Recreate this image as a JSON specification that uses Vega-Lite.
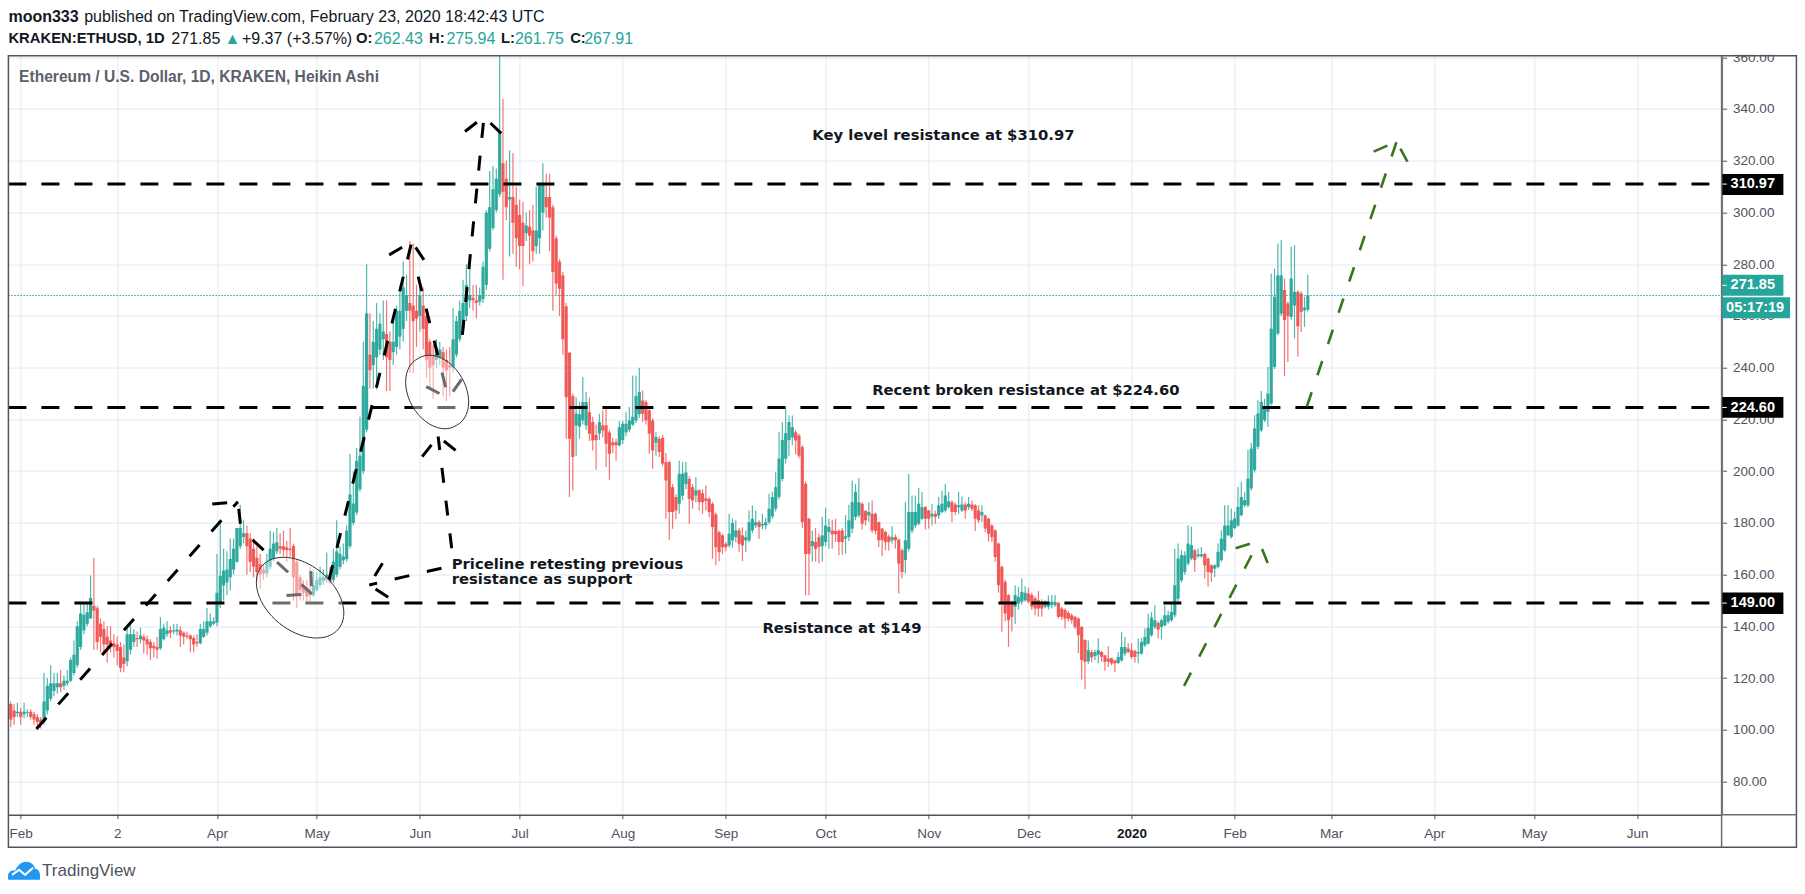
{
"$schema":"https://vega.github.io/schema/vega-lite/v6.json",
"description":"ETHUSD daily Heikin Ashi with hand drawn resistance levels and arrows",
"width":1713.2,"height":759,
"autosize":{"type":"none"},
"padding":{"left":8.4,"top":55.7,"right":83.4,"bottom":79.3},
"background":"#ffffff",
"config":{"view":{"stroke":null},"font":"Liberation Sans"},
"datasets":{
"candles":[
{"date":"2019-01-29","o":110,"c":104,"h":111,"l":101},{"date":"2019-01-30","o":107.5,"c":105,"h":110,"l":102},{"date":"2019-01-31","o":106.4,"c":107,"h":110.5,"l":105},
{"date":"2019-02-01","o":107,"c":105,"h":108.5,"l":102},{"date":"2019-02-02","o":106,"c":107,"h":110.5,"l":104.5},{"date":"2019-02-03","o":106.5,"c":106.8,"h":108,"l":105},{"date":"2019-02-04","o":107,"c":105,"h":108,"l":104},{"date":"2019-02-05","o":106,"c":104,"h":107,"l":102},{"date":"2019-02-06","o":105,"c":103,"h":106,"l":100.4},{"date":"2019-02-07","o":104,"c":102.5,"h":105,"l":100.5},{"date":"2019-02-08","o":103,"c":111,"h":122,"l":102},{"date":"2019-02-09","o":107.5,"c":117,"h":120,"l":106},{"date":"2019-02-10","o":112,"c":118,"h":125,"l":111},{"date":"2019-02-11","o":115,"c":118,"h":122,"l":113},{"date":"2019-02-12","o":116.5,"c":118,"h":122,"l":114},{"date":"2019-02-13","o":118,"c":116.5,"h":123,"l":114.5},{"date":"2019-02-14","o":117,"c":119,"h":121,"l":115.5},{"date":"2019-02-15","o":118,"c":119,"h":123,"l":117},{"date":"2019-02-16","o":119,"c":127,"h":128,"l":118.5},{"date":"2019-02-17","o":122,"c":129,"h":134.5,"l":121},{"date":"2019-02-18","o":125,"c":140,"h":142,"l":124},{"date":"2019-02-19","o":132,"c":145,"h":149,"l":131},{"date":"2019-02-20","o":138.5,"c":144.5,"h":149,"l":137},{"date":"2019-02-21","o":141,"c":145.5,"h":149,"l":140},{"date":"2019-02-22","o":143,"c":151,"h":159.7,"l":143},{"date":"2019-02-23","o":148,"c":146,"h":166.5,"l":131},{"date":"2019-02-24","o":147,"c":134,"h":148,"l":131},{"date":"2019-02-25","o":141,"c":136,"h":143,"l":130},{"date":"2019-02-26","o":139,"c":133,"h":142,"l":129},{"date":"2019-02-27","o":136,"c":133,"h":140,"l":126},{"date":"2019-02-28","o":134.5,"c":132,"h":140,"l":130},
{"date":"2019-03-01","o":133.5,"c":132,"h":137,"l":128},{"date":"2019-03-02","o":133,"c":130.5,"h":136,"l":125},{"date":"2019-03-03","o":132,"c":124,"h":134,"l":122.3},{"date":"2019-03-04","o":128,"c":125.5,"h":133,"l":122.3},{"date":"2019-03-05","o":126.5,"c":137,"h":140,"l":124.6},{"date":"2019-03-06","o":131,"c":137,"h":141,"l":129},{"date":"2019-03-07","o":134,"c":137,"h":139,"l":132},{"date":"2019-03-08","o":135.5,"c":135,"h":138,"l":132},{"date":"2019-03-09","o":135,"c":136.5,"h":139.5,"l":133.5},{"date":"2019-03-10","o":136,"c":134.5,"h":137,"l":129.5},{"date":"2019-03-11","o":135,"c":133,"h":136.5,"l":129},{"date":"2019-03-12","o":134,"c":131.5,"h":135,"l":127},{"date":"2019-03-13","o":132.5,"c":131.5,"h":134,"l":128},{"date":"2019-03-14","o":132,"c":131,"h":136,"l":127.5},{"date":"2019-03-15","o":131.5,"c":139,"h":143.5,"l":131},{"date":"2019-03-16","o":135,"c":139.5,"h":141,"l":134.5},{"date":"2019-03-17","o":137,"c":138.5,"h":142,"l":136},{"date":"2019-03-18","o":138.5,"c":137.5,"h":140,"l":135.5},{"date":"2019-03-19","o":138,"c":138.5,"h":141,"l":137},{"date":"2019-03-20","o":138,"c":138.8,"h":141,"l":136.5},{"date":"2019-03-21","o":138.5,"c":136.5,"h":140,"l":132},{"date":"2019-03-22","o":137.5,"c":136,"h":138,"l":133},{"date":"2019-03-23","o":136.5,"c":136,"h":138,"l":135},{"date":"2019-03-24","o":136.5,"c":135,"h":137,"l":130},{"date":"2019-03-25","o":135.5,"c":133,"h":136.5,"l":130},{"date":"2019-03-26","o":134,"c":133.5,"h":137,"l":132},{"date":"2019-03-27","o":133.5,"c":139,"h":141,"l":133},{"date":"2019-03-28","o":136,"c":139,"h":142,"l":135.5},{"date":"2019-03-29","o":137.5,"c":142,"h":147,"l":136.5},{"date":"2019-03-30","o":140,"c":142,"h":145,"l":139.5},{"date":"2019-03-31","o":141,"c":142,"h":143.5,"l":140.5},
{"date":"2019-04-01","o":141.5,"c":153,"h":168,"l":140},{"date":"2019-04-02","o":148.7,"c":159.6,"h":180,"l":147},{"date":"2019-04-03","o":155.8,"c":161.6,"h":170,"l":150},{"date":"2019-04-04","o":157,"c":162,"h":169,"l":152},{"date":"2019-04-05","o":159,"c":166,"h":174,"l":154},{"date":"2019-04-06","o":162,"c":170,"h":174,"l":160},{"date":"2019-04-07","o":165,"c":178,"h":178,"l":164.5},{"date":"2019-04-08","o":171,"c":178,"h":187,"l":170},{"date":"2019-04-09","o":174.5,"c":176,"h":181,"l":172},{"date":"2019-04-10","o":176,"c":171,"h":179,"l":160},{"date":"2019-04-11","o":174,"c":165,"h":176,"l":161},{"date":"2019-04-12","o":170,"c":163,"h":174,"l":159},{"date":"2019-04-13","o":166.5,"c":161,"h":171,"l":157},{"date":"2019-04-14","o":164,"c":160,"h":168,"l":154.5},{"date":"2019-04-15","o":162,"c":160.5,"h":164,"l":158},{"date":"2019-04-16","o":160.5,"c":165,"h":168,"l":159},{"date":"2019-04-17","o":163,"c":170,"h":177,"l":162},{"date":"2019-04-18","o":166,"c":172,"h":176.5,"l":165},{"date":"2019-04-19","o":169,"c":172.5,"h":178,"l":168},{"date":"2019-04-20","o":171,"c":170,"h":176,"l":168},{"date":"2019-04-21","o":171,"c":169.5,"h":177,"l":167},{"date":"2019-04-22","o":170.5,"c":169.5,"h":173,"l":165},{"date":"2019-04-23","o":170,"c":169.5,"h":178,"l":167},{"date":"2019-04-24","o":171,"c":159,"h":172,"l":150},{"date":"2019-04-25","o":165,"c":152,"h":166,"l":147},{"date":"2019-04-26","o":159,"c":154,"h":160,"l":150},{"date":"2019-04-27","o":156,"c":153,"h":158,"l":150},{"date":"2019-04-28","o":155,"c":151.5,"h":158,"l":149.5},{"date":"2019-04-29","o":153,"c":152,"h":163,"l":149.5},{"date":"2019-04-30","o":152,"c":156,"h":161,"l":151.5},
{"date":"2019-05-01","o":154,"c":158,"h":161,"l":153.5},{"date":"2019-05-02","o":156,"c":159,"h":163,"l":155},{"date":"2019-05-03","o":157.5,"c":159,"h":162,"l":156},{"date":"2019-05-04","o":158,"c":160,"h":168.6,"l":157},{"date":"2019-05-05","o":159.5,"c":157,"h":163,"l":156.5},{"date":"2019-05-06","o":158,"c":165,"h":170,"l":157},{"date":"2019-05-07","o":160,"c":169,"h":181,"l":159},{"date":"2019-05-08","o":163,"c":168,"h":171,"l":162},{"date":"2019-05-09","o":165.5,"c":167,"h":172,"l":164},{"date":"2019-05-10","o":166,"c":177,"h":179,"l":165},{"date":"2019-05-11","o":171,"c":191,"h":206.7,"l":170},{"date":"2019-05-12","o":180,"c":187.5,"h":200,"l":179},{"date":"2019-05-13","o":184,"c":204,"h":209,"l":183},{"date":"2019-05-14","o":193,"c":206,"h":221,"l":192},{"date":"2019-05-15","o":200,"c":233,"h":250,"l":199},{"date":"2019-05-16","o":216,"c":261,"h":280,"l":215},{"date":"2019-05-17","o":245,"c":239,"h":261,"l":232},{"date":"2019-05-18","o":241,"c":250,"h":258,"l":232},{"date":"2019-05-19","o":244,"c":255,"h":265,"l":231.5},{"date":"2019-05-20","o":247,"c":257,"h":261,"l":245},{"date":"2019-05-21","o":251,"c":254,"h":266,"l":243},{"date":"2019-05-22","o":253,"c":244,"h":266,"l":231},{"date":"2019-05-23","o":250,"c":243,"h":254,"l":231},{"date":"2019-05-24","o":246,"c":250,"h":259,"l":241},{"date":"2019-05-25","o":248,"c":262,"h":264,"l":245},{"date":"2019-05-26","o":252,"c":262,"h":271,"l":247},{"date":"2019-05-27","o":255,"c":271,"h":281,"l":250},{"date":"2019-05-28","o":262,"c":268,"h":276,"l":258},{"date":"2019-05-29","o":265,"c":262,"h":289,"l":238},{"date":"2019-05-30","o":264,"c":258,"h":288,"l":238},{"date":"2019-05-31","o":262,"c":259,"h":272,"l":248},
{"date":"2019-06-01","o":260,"c":268,"h":272,"l":254},{"date":"2019-06-02","o":264,"c":255,"h":271,"l":247},{"date":"2019-06-03","o":260,"c":243,"h":262,"l":236},{"date":"2019-06-04","o":250,"c":240,"h":251,"l":232},{"date":"2019-06-05","o":245,"c":241,"h":249,"l":228},{"date":"2019-06-06","o":243,"c":248,"h":251,"l":240},{"date":"2019-06-07","o":244,"c":247,"h":250,"l":241},{"date":"2019-06-08","o":246,"c":240,"h":248,"l":229},{"date":"2019-06-09","o":243,"c":239,"h":247,"l":227},{"date":"2019-06-10","o":241,"c":240,"h":248,"l":229},{"date":"2019-06-11","o":240,"c":251,"h":263,"l":238},{"date":"2019-06-12","o":245,"c":258,"h":260,"l":244},{"date":"2019-06-13","o":251,"c":262,"h":266,"l":250},{"date":"2019-06-14","o":255,"c":265,"h":274,"l":253},{"date":"2019-06-15","o":260,"c":272,"h":280,"l":258},{"date":"2019-06-16","o":266,"c":268,"h":281,"l":263},{"date":"2019-06-17","o":267,"c":266,"h":272,"l":262},{"date":"2019-06-18","o":266,"c":265,"h":272,"l":259},{"date":"2019-06-19","o":265.5,"c":268,"h":271,"l":264},{"date":"2019-06-20","o":266.5,"c":279,"h":281,"l":265},{"date":"2019-06-21","o":272,"c":300,"h":301,"l":270},{"date":"2019-06-22","o":286,"c":302,"h":316,"l":285},{"date":"2019-06-23","o":294,"c":309,"h":318,"l":293},{"date":"2019-06-24","o":301,"c":313,"h":317,"l":300},{"date":"2019-06-25","o":307,"c":331,"h":365,"l":306},{"date":"2019-06-26","o":319,"c":308,"h":344,"l":274},{"date":"2019-06-27","o":313,"c":302,"h":320,"l":297},{"date":"2019-06-28","o":305,"c":306,"h":324,"l":283},{"date":"2019-06-29","o":306,"c":296,"h":323,"l":284},{"date":"2019-06-30","o":303,"c":290,"h":310,"l":279},
{"date":"2019-07-01","o":299,"c":287,"h":305,"l":278},{"date":"2019-07-02","o":296,"c":287,"h":304,"l":271.6},{"date":"2019-07-03","o":292,"c":295,"h":300,"l":289},{"date":"2019-07-04","o":294.5,"c":291,"h":301,"l":280},{"date":"2019-07-05","o":293,"c":285,"h":303,"l":281},{"date":"2019-07-06","o":287,"c":293,"h":310,"l":284},{"date":"2019-07-07","o":290,"c":311,"h":311.5,"l":284},{"date":"2019-07-08","o":300,"c":311,"h":319,"l":293},{"date":"2019-07-09","o":306,"c":302,"h":315,"l":298},{"date":"2019-07-10","o":306,"c":298,"h":315,"l":285},{"date":"2019-07-11","o":302,"c":277,"h":303,"l":262},{"date":"2019-07-12","o":290,"c":272.5,"h":291,"l":268},{"date":"2019-07-13","o":281,"c":270.5,"h":282,"l":260},{"date":"2019-07-14","o":275.7,"c":251,"h":277,"l":245},{"date":"2019-07-15","o":263.7,"c":228.6,"h":265,"l":212.5},{"date":"2019-07-16","o":245.8,"c":212.5,"h":246,"l":190},{"date":"2019-07-17","o":229,"c":205.5,"h":230,"l":192.5},{"date":"2019-07-18","o":217.7,"c":222.2,"h":228.6,"l":206},{"date":"2019-07-19","o":217.2,"c":222,"h":226.7,"l":212.5},{"date":"2019-07-20","o":219.6,"c":226.7,"h":236.4,"l":218},{"date":"2019-07-21","o":217.7,"c":226.7,"h":230.6,"l":216},{"date":"2019-07-22","o":222.8,"c":214.5,"h":228.4,"l":211.6},{"date":"2019-07-23","o":219,"c":211.9,"h":221,"l":208},{"date":"2019-07-24","o":214,"c":212,"h":218,"l":200.5},{"date":"2019-07-25","o":214.5,"c":219,"h":222.2,"l":212},{"date":"2019-07-26","o":217.7,"c":215.7,"h":223.5,"l":213},{"date":"2019-07-27","o":217.7,"c":210.6,"h":224,"l":201.6},{"date":"2019-07-28","o":215,"c":206.7,"h":216,"l":196.7},{"date":"2019-07-29","o":211.2,"c":210,"h":213,"l":207},{"date":"2019-07-30","o":211.2,"c":210,"h":212.5,"l":204},{"date":"2019-07-31","o":210,"c":217,"h":219.4,"l":209.5},
{"date":"2019-08-01","o":212,"c":218.3,"h":219.5,"l":210.5},{"date":"2019-08-02","o":215,"c":218.3,"h":222.8,"l":213.5},{"date":"2019-08-03","o":216,"c":219.6,"h":224.8,"l":215},{"date":"2019-08-04","o":218,"c":221,"h":237,"l":217.5},{"date":"2019-08-05","o":219.6,"c":229,"h":237,"l":218.5},{"date":"2019-08-06","o":222,"c":230.6,"h":240,"l":220.5},{"date":"2019-08-07","o":227.3,"c":222.2,"h":231.2,"l":219},{"date":"2019-08-08","o":226.7,"c":219.6,"h":227.5,"l":218},{"date":"2019-08-09","o":223.5,"c":214.5,"h":224,"l":206.7},{"date":"2019-08-10","o":219.6,"c":208,"h":220.5,"l":200.9},{"date":"2019-08-11","o":211,"c":213.2,"h":215,"l":206},{"date":"2019-08-12","o":212.5,"c":207.4,"h":213.5,"l":205.5},{"date":"2019-08-13","o":212.9,"c":202.9,"h":214,"l":202},{"date":"2019-08-14","o":203.5,"c":196.4,"h":207,"l":181.6},{"date":"2019-08-15","o":203.5,"c":184.2,"h":204,"l":173.5},{"date":"2019-08-16","o":193.8,"c":184.2,"h":195,"l":177.7},{"date":"2019-08-17","o":190,"c":184.8,"h":191,"l":181.5},{"date":"2019-08-18","o":187.4,"c":199,"h":204,"l":183.5},{"date":"2019-08-19","o":190.5,"c":199,"h":203.5,"l":188.7},{"date":"2019-08-20","o":195,"c":199.5,"h":203.5,"l":193},{"date":"2019-08-21","o":197,"c":189.3,"h":198,"l":179.7},{"date":"2019-08-22","o":193.8,"c":188.7,"h":195,"l":185.5},{"date":"2019-08-23","o":190.6,"c":192.6,"h":197.7,"l":188},{"date":"2019-08-24","o":192.6,"c":188,"h":193,"l":184.8},{"date":"2019-08-25","o":191.5,"c":188,"h":193,"l":183.5},{"date":"2019-08-26","o":189.5,"c":188.5,"h":194.5,"l":184.8},{"date":"2019-08-27","o":189.3,"c":184.2,"h":190,"l":182.2},{"date":"2019-08-28","o":187.4,"c":178.4,"h":188,"l":166.1},{"date":"2019-08-29","o":183.3,"c":170.6,"h":184,"l":163.6},{"date":"2019-08-30","o":176.4,"c":168.7,"h":177,"l":165.2},{"date":"2019-08-31","o":175.2,"c":170.6,"h":175.8,"l":168},
{"date":"2019-09-01","o":171.9,"c":170.6,"h":172.5,"l":169},{"date":"2019-09-02","o":171.3,"c":175.8,"h":183.5,"l":170.5},{"date":"2019-09-03","o":173.2,"c":180,"h":181.6,"l":170.5},{"date":"2019-09-04","o":174.5,"c":177.1,"h":181,"l":172.5},{"date":"2019-09-05","o":177.1,"c":171.9,"h":178,"l":168.7},{"date":"2019-09-06","o":175.2,"c":171.3,"h":178.3,"l":165.2},{"date":"2019-09-07","o":173.2,"c":174.5,"h":177.1,"l":168.7},{"date":"2019-09-08","o":173.2,"c":180.3,"h":184.8,"l":172.5},{"date":"2019-09-09","o":177.1,"c":181.6,"h":186.8,"l":176},{"date":"2019-09-10","o":179,"c":180.3,"h":184.8,"l":178},{"date":"2019-09-11","o":180.3,"c":178.4,"h":181,"l":173.9},{"date":"2019-09-12","o":179,"c":179.6,"h":183.5,"l":177.5},{"date":"2019-09-13","o":179,"c":180.3,"h":182,"l":177.5},{"date":"2019-09-14","o":180.3,"c":185.5,"h":191.3,"l":179.5},{"date":"2019-09-15","o":182.5,"c":190,"h":192,"l":181.5},{"date":"2019-09-16","o":185.5,"c":193.8,"h":199.6,"l":184.5},{"date":"2019-09-17","o":190,"c":204.8,"h":215,"l":189},{"date":"2019-09-18","o":197,"c":212,"h":219,"l":196},{"date":"2019-09-19","o":204.8,"c":214.7,"h":224.8,"l":203},{"date":"2019-09-20","o":212,"c":219,"h":221.5,"l":206},{"date":"2019-09-21","o":213,"c":217,"h":221.5,"l":210},{"date":"2019-09-22","o":215,"c":211.9,"h":216,"l":206.5},{"date":"2019-09-23","o":213.8,"c":206,"h":214.5,"l":205},{"date":"2019-09-24","o":209.3,"c":180.3,"h":210,"l":178},{"date":"2019-09-25","o":195.1,"c":168,"h":196,"l":152},{"date":"2019-09-26","o":181.6,"c":168,"h":182,"l":152},{"date":"2019-09-27","o":171,"c":173,"h":177,"l":165},{"date":"2019-09-28","o":172.6,"c":170,"h":178,"l":165},{"date":"2019-09-29","o":174.5,"c":170.7,"h":176,"l":164.3},{"date":"2019-09-30","o":171,"c":175.2,"h":182.3,"l":165},
{"date":"2019-10-01","o":172.6,"c":179,"h":185.9,"l":171},{"date":"2019-10-02","o":176.5,"c":178.4,"h":181.6,"l":170},{"date":"2019-10-03","o":177,"c":175.6,"h":181.2,"l":170},{"date":"2019-10-04","o":176.9,"c":175.6,"h":181.6,"l":172.6},{"date":"2019-10-05","o":176.9,"c":172.6,"h":177.5,"l":167.5},{"date":"2019-10-06","o":177.1,"c":172.6,"h":178,"l":167.7},{"date":"2019-10-07","o":173.9,"c":174.8,"h":183,"l":168.1},{"date":"2019-10-08","o":174.5,"c":181,"h":187,"l":173},{"date":"2019-10-09","o":177.8,"c":188,"h":196.4,"l":176},{"date":"2019-10-10","o":182.3,"c":191.9,"h":195.1,"l":181},{"date":"2019-10-11","o":182.9,"c":188,"h":197.4,"l":182},{"date":"2019-10-12","o":187.4,"c":179.7,"h":188,"l":177.4},{"date":"2019-10-13","o":184.6,"c":181,"h":185,"l":179},{"date":"2019-10-14","o":182.9,"c":184.2,"h":188,"l":180.3},{"date":"2019-10-15","o":183.5,"c":177.1,"h":188.7,"l":176},{"date":"2019-10-16","o":183.5,"c":176.9,"h":184,"l":175.5},{"date":"2019-10-17","o":180.3,"c":173.3,"h":180.5,"l":170.7},{"date":"2019-10-18","o":177.8,"c":173.3,"h":178,"l":167.1},{"date":"2019-10-19","o":176.5,"c":172.6,"h":177,"l":169.4},{"date":"2019-10-20","o":174.8,"c":172.6,"h":175.5,"l":169.2},{"date":"2019-10-21","o":173.3,"c":174.5,"h":178.7,"l":172},{"date":"2019-10-22","o":174.5,"c":173.3,"h":175.6,"l":170},{"date":"2019-10-23","o":173.5,"c":164.3,"h":174,"l":152.7},{"date":"2019-10-24","o":169.4,"c":161,"h":170,"l":158.5},{"date":"2019-10-25","o":165.6,"c":173.3,"h":188,"l":160.4},{"date":"2019-10-26","o":170,"c":184.2,"h":199,"l":169},{"date":"2019-10-27","o":177,"c":184.2,"h":190.6,"l":176},{"date":"2019-10-28","o":179,"c":184.2,"h":190.6,"l":178},{"date":"2019-10-29","o":179.7,"c":187.4,"h":193.6,"l":179},{"date":"2019-10-30","o":181.6,"c":186.1,"h":191.9,"l":181},{"date":"2019-10-31","o":186.1,"c":181.6,"h":186.5,"l":177.4},
{"date":"2019-11-01","o":184.8,"c":181.6,"h":185,"l":177.8},{"date":"2019-11-02","o":182.5,"c":183.5,"h":187.4,"l":179},{"date":"2019-11-03","o":183.5,"c":182.3,"h":184.8,"l":179.7},{"date":"2019-11-04","o":182.9,"c":186.8,"h":190,"l":181.5},{"date":"2019-11-05","o":184.2,"c":187.4,"h":192.5,"l":183.5},{"date":"2019-11-06","o":184.8,"c":190.6,"h":195.1,"l":184},{"date":"2019-11-07","o":186.1,"c":188.4,"h":191.9,"l":185.5},{"date":"2019-11-08","o":188,"c":184.2,"h":188.8,"l":180.3},{"date":"2019-11-09","o":187.1,"c":184.2,"h":188,"l":183},{"date":"2019-11-10","o":186.1,"c":186.8,"h":191.9,"l":183.5},{"date":"2019-11-11","o":184.8,"c":187.1,"h":190.2,"l":184.2},{"date":"2019-11-12","o":187.1,"c":184.8,"h":188,"l":181.6},{"date":"2019-11-13","o":186.1,"c":187.4,"h":190,"l":185},{"date":"2019-11-14","o":187.1,"c":185.4,"h":188.7,"l":184.5},{"date":"2019-11-15","o":186.8,"c":181.6,"h":187.2,"l":176.9},{"date":"2019-11-16","o":184.8,"c":181,"h":186.8,"l":180},{"date":"2019-11-17","o":182.9,"c":184.2,"h":186.8,"l":180.3},{"date":"2019-11-18","o":182.9,"c":177.8,"h":183.2,"l":176.5},{"date":"2019-11-19","o":181.6,"c":175.8,"h":182,"l":172.8},{"date":"2019-11-20","o":179,"c":174.5,"h":179.5,"l":172.6},{"date":"2019-11-21","o":177.1,"c":166.8,"h":177.5,"l":165},{"date":"2019-11-22","o":172,"c":155.9,"h":172.5,"l":153},{"date":"2019-11-23","o":163,"c":148.8,"h":163.5,"l":137.9},{"date":"2019-11-24","o":157.2,"c":145,"h":158,"l":142},{"date":"2019-11-25","o":152.1,"c":142.4,"h":152.5,"l":132.1},{"date":"2019-11-26","o":148.8,"c":143.7,"h":150,"l":138},{"date":"2019-11-27","o":147.6,"c":152.1,"h":155.9,"l":140.9},{"date":"2019-11-28","o":148.8,"c":151.4,"h":155.3,"l":146.5},{"date":"2019-11-29","o":149.5,"c":153.3,"h":158.5,"l":148.5},{"date":"2019-11-30","o":150.1,"c":153,"h":155.5,"l":149.5},
{"date":"2019-12-01","o":152.7,"c":149.5,"h":155,"l":148.8},{"date":"2019-12-02","o":152.1,"c":147.6,"h":153,"l":146.3},{"date":"2019-12-03","o":150.8,"c":146.9,"h":151.5,"l":144.3},{"date":"2019-12-04","o":150.1,"c":146.9,"h":153.7,"l":143.7},{"date":"2019-12-05","o":149.5,"c":146.9,"h":150.5,"l":143.7},{"date":"2019-12-06","o":147.6,"c":149.5,"h":150.1,"l":147},{"date":"2019-12-07","o":147.6,"c":149.5,"h":152,"l":146.5},{"date":"2019-12-08","o":148.2,"c":149.5,"h":152.1,"l":147},{"date":"2019-12-09","o":148.2,"c":149.5,"h":152.1,"l":147.5},{"date":"2019-12-10","o":149.1,"c":143.7,"h":149.5,"l":143},{"date":"2019-12-11","o":146.9,"c":143.7,"h":147.5,"l":142.5},{"date":"2019-12-12","o":146.3,"c":143,"h":147,"l":139.2},{"date":"2019-12-13","o":145.2,"c":143,"h":146,"l":142},{"date":"2019-12-14","o":144.3,"c":142.4,"h":145,"l":141.1},{"date":"2019-12-15","o":143.7,"c":139.8,"h":144,"l":139},{"date":"2019-12-16","o":143,"c":136.6,"h":143.5,"l":129.6},{"date":"2019-12-17","o":139.8,"c":127,"h":140,"l":119.5},{"date":"2019-12-18","o":134.7,"c":126.3,"h":135,"l":115.7},{"date":"2019-12-19","o":126.5,"c":130.8,"h":134.5,"l":125.5},{"date":"2019-12-20","o":130,"c":128,"h":131,"l":126},{"date":"2019-12-21","o":128.5,"c":130.1,"h":131,"l":127},{"date":"2019-12-22","o":129,"c":130.8,"h":135.3,"l":125.7},{"date":"2019-12-23","o":130.1,"c":128.2,"h":130.5,"l":126.3},{"date":"2019-12-24","o":128.8,"c":126.3,"h":129,"l":122.8},{"date":"2019-12-25","o":127.6,"c":126.3,"h":132.3,"l":124.3},{"date":"2019-12-26","o":127.6,"c":125.7,"h":128,"l":125},{"date":"2019-12-27","o":126.9,"c":125.7,"h":127,"l":122.4},{"date":"2019-12-28","o":125.9,"c":128.2,"h":130.1,"l":125.5},{"date":"2019-12-29","o":126.9,"c":132,"h":137.9,"l":126.3},{"date":"2019-12-30","o":129.5,"c":132,"h":135.9,"l":128.5},{"date":"2019-12-31","o":131.4,"c":130.1,"h":133.6,"l":129.5},
{"date":"2020-01-01","o":130.8,"c":128.2,"h":133.4,"l":127.5},{"date":"2020-01-02","o":130.5,"c":128.2,"h":131,"l":125.9},{"date":"2020-01-03","o":129.5,"c":130.1,"h":135.3,"l":125.7},{"date":"2020-01-04","o":129.5,"c":134,"h":135.5,"l":129},{"date":"2020-01-05","o":132.7,"c":135.9,"h":139.2,"l":132},{"date":"2020-01-06","o":133.4,"c":139.5,"h":145,"l":133},{"date":"2020-01-07","o":136.6,"c":143.4,"h":145.6,"l":136},{"date":"2020-01-08","o":139.8,"c":142.4,"h":148.2,"l":139},{"date":"2020-01-09","o":141.3,"c":138.8,"h":142,"l":135.3},{"date":"2020-01-10","o":139.8,"c":142.4,"h":143,"l":134.9},{"date":"2020-01-11","o":140.4,"c":144.3,"h":148.2,"l":140},{"date":"2020-01-12","o":141.8,"c":144.3,"h":146,"l":141},{"date":"2020-01-13","o":142.4,"c":145.6,"h":148.8,"l":141.8},{"date":"2020-01-14","o":144.3,"c":155.9,"h":170,"l":143.5},{"date":"2020-01-15","o":150.7,"c":166.2,"h":172,"l":149.5},{"date":"2020-01-16","o":157.8,"c":167.5,"h":169.5,"l":157},{"date":"2020-01-17","o":161,"c":167.5,"h":169,"l":160},{"date":"2020-01-18","o":164.3,"c":172,"h":179,"l":163.5},{"date":"2020-01-19","o":166.2,"c":171.4,"h":178.5,"l":165.5},{"date":"2020-01-20","o":169.4,"c":165.6,"h":170,"l":161},{"date":"2020-01-21","o":167.1,"c":167.9,"h":170.1,"l":166.5},{"date":"2020-01-22","o":167.1,"c":167.9,"h":170.7,"l":166.5},{"date":"2020-01-23","o":168,"c":163.6,"h":168.5,"l":158.5},{"date":"2020-01-24","o":166.2,"c":161,"h":166.5,"l":155.3},{"date":"2020-01-25","o":163.6,"c":160.7,"h":164,"l":157.2},{"date":"2020-01-26","o":162.3,"c":163.6,"h":164,"l":159.1},{"date":"2020-01-27","o":163,"c":168.8,"h":172,"l":162.5},{"date":"2020-01-28","o":165.6,"c":173.9,"h":177.2,"l":165},{"date":"2020-01-29","o":169.4,"c":179,"h":186.8,"l":168.8},{"date":"2020-01-30","o":175.2,"c":179,"h":186.8,"l":175},{"date":"2020-01-31","o":174.6,"c":181,"h":185.5,"l":174},
{"date":"2020-02-01","o":178,"c":181.7,"h":184.3,"l":177.5},{"date":"2020-02-02","o":179,"c":186.2,"h":193.9,"l":178.5},{"date":"2020-02-03","o":183,"c":190,"h":195.9,"l":182.5},{"date":"2020-02-04","o":186.8,"c":188.8,"h":192,"l":186},{"date":"2020-02-05","o":186.8,"c":197.1,"h":208.3,"l":186},{"date":"2020-02-06","o":193.3,"c":208.7,"h":211,"l":192.5},{"date":"2020-02-07","o":200.4,"c":216.5,"h":221.6,"l":199.5},{"date":"2020-02-08","o":209.4,"c":222.3,"h":227.4,"l":208.5},{"date":"2020-02-09","o":215.8,"c":226.8,"h":231,"l":215},{"date":"2020-02-10","o":219.7,"c":224.8,"h":228,"l":219},{"date":"2020-02-11","o":222.9,"c":230,"h":240.3,"l":217.1},{"date":"2020-02-12","o":226.1,"c":255.1,"h":276.4,"l":225.5},{"date":"2020-02-13","o":240.3,"c":267.4,"h":278.3,"l":239.5},{"date":"2020-02-14","o":253.2,"c":275.7,"h":288,"l":252.5},{"date":"2020-02-15","o":260.9,"c":275.7,"h":289.3,"l":260},{"date":"2020-02-16","o":270,"c":258.4,"h":274.5,"l":236.7},{"date":"2020-02-17","o":264.8,"c":259.9,"h":265.5,"l":242.2},{"date":"2020-02-18","o":259.6,"c":274.5,"h":286.7,"l":258.5},{"date":"2020-02-19","o":264,"c":269.3,"h":287.3,"l":251.3},{"date":"2020-02-20","o":269.3,"c":256,"h":270,"l":244.2},{"date":"2020-02-21","o":268.7,"c":261.6,"h":269.5,"l":253.8},{"date":"2020-02-22","o":262.2,"c":263.2,"h":267.4,"l":255.8},{"date":"2020-02-23","o":262.43,"c":267.91,"h":275.94,"l":261.75}
],
"levels":[
{"date":"2019-01-28T07:00Z","date2":"2020-06-26T10:00Z","price":310.97},
{"date":"2019-01-28T07:00Z","date2":"2020-06-26T10:00Z","price":224.6},
{"date":"2019-01-28T07:00Z","date2":"2020-06-26T10:00Z","price":149}
],
"arrows":[
{"g":"a1","i":1,"date":"2019-02-05T17:00Z","price":100.3},{"g":"a1","i":2,"date":"2019-04-07T07:00Z","price":188.2},
{"g":"h1","i":1,"date":"2019-03-30T14:00Z","price":187.3},{"g":"h1","i":2,"date":"2019-04-07T07:00Z","price":188.2},{"g":"h1","i":3,"date":"2019-04-08T05:00Z","price":178},
{"g":"a2","i":1,"date":"2019-04-11T17:00Z","price":173.4},{"g":"a2","i":2,"date":"2019-04-29T12:00Z","price":152.6},
{"g":"h2","i":1,"date":"2019-04-21T22:00Z","price":151.9},{"g":"h2","i":2,"date":"2019-04-29T12:00Z","price":152.6},{"g":"h2","i":3,"date":"2019-04-29T05:00Z","price":162.5},
{"g":"a3","i":1,"date":"2019-05-04T17:00Z","price":158},{"g":"a3","i":2,"date":"2019-05-17T10:00Z","price":224.3},{"g":"a3","i":3,"date":"2019-05-29T14:00Z","price":288.7},
{"g":"h4","i":1,"date":"2019-05-22T19:00Z","price":283.6},{"g":"h4","i":2,"date":"2019-05-29T14:00Z","price":288.7},{"g":"h4","i":3,"date":"2019-06-02T22:00Z","price":280.4},
{"g":"a5","i":1,"date":"2019-05-31T12:00Z","price":275.2},{"g":"a5","i":2,"date":"2019-06-09T14:00Z","price":228.2},
{"g":"h5","i":1,"date":"2019-06-02T22:00Z","price":232.7},{"g":"h5","i":2,"date":"2019-06-09T14:00Z","price":228.2},{"g":"h5","i":3,"date":"2019-06-13T19:00Z","price":235.9},
{"g":"a6","i":1,"date":"2019-06-13T19:00Z","price":252.7},{"g":"a6","i":2,"date":"2019-06-20T07:00Z","price":337},
{"g":"h6","i":1,"date":"2019-06-14T14:00Z","price":331.3},{"g":"h6","i":2,"date":"2019-06-20T07:00Z","price":337},{"g":"h6","i":3,"date":"2019-06-25T22:00Z","price":330},
{"g":"a7","i":1,"date":"2019-06-10T14:00Z","price":170.2},{"g":"a7","i":2,"date":"2019-06-06T12:00Z","price":213.4},
{"g":"h7","i":1,"date":"2019-06-01T17:00Z","price":205.6},{"g":"h7","i":2,"date":"2019-06-06T12:00Z","price":213.4},{"g":"h7","i":3,"date":"2019-06-12T14:00Z","price":207.2},
{"g":"a8","i":1,"date":"2019-06-07T12:00Z","price":162.5},{"g":"a8","i":2,"date":"2019-05-16T19:00Z","price":156},
{"g":"h8","i":1,"date":"2019-05-20T19:00Z","price":164.4},{"g":"h8","i":2,"date":"2019-05-16T19:00Z","price":156},{"g":"h8","i":3,"date":"2019-05-23T10:00Z","price":150.5}
],
"greenArrows":[
{"g":"g1","i":1,"date":"2020-01-16T19:00Z","price":117},{"g":"g1","i":2,"date":"2020-02-08T07:00Z","price":173},
{"g":"gh1","i":1,"date":"2020-02-01T07:00Z","price":170.2},{"g":"gh1","i":2,"date":"2020-02-08T07:00Z","price":173},{"g":"gh1","i":3,"date":"2020-02-11T05:00Z","price":163.6},
{"g":"g2","i":1,"date":"2020-02-22T17:00Z","price":225},{"g":"g2","i":2,"date":"2020-03-20T17:00Z","price":327.4},
{"g":"gh2","i":1,"date":"2020-03-13T19:00Z","price":323.5},{"g":"gh2","i":2,"date":"2020-03-20T17:00Z","price":327.4},{"g":"gh2","i":3,"date":"2020-03-24T07:00Z","price":318.8}
],
"notes":[
{"date":"2019-09-27","price":329.6,"label":"Key level resistance at $310.97"},
{"date":"2019-10-15","price":230.8,"label":"Recent broken resistance at $224.60"},
{"date":"2019-09-12","price":138.9,"label":"Resistance at $149"},
{"date":"2019-06-10T14:00Z","price":163.9,"label":"Priceline retesting previous"},
{"date":"2019-06-10T14:00Z","price":158,"label":"resistance as support"}
],
"header":[
{"date":"2019-01-28T07:00Z","price":375.7,"label":"moon333","kind":"user"},
{"date":"2019-02-20T02:00Z","price":375.7,"label":"published on TradingView.com, February 23, 2020 18:42:43 UTC","kind":"plain"},
{"date":"2019-01-28T07:00Z","price":367.2,"label":"KRAKEN:ETHUSD, 1D","kind":"bold"},
{"date":"2019-03-18T07:00Z","price":367.2,"label":"271.85","kind":"plain"},
{"date":"2019-04-03T07:00Z","price":367.2,"label":"▲","kind":"value"},
{"date":"2019-04-08T12:00Z","price":367.2,"label":"+9.37 (+3.57%)","kind":"plain"},
{"date":"2019-05-12T19:00Z","price":367.2,"label":"O:","kind":"bold"},
{"date":"2019-05-18T05:00Z","price":367.2,"label":"262.43","kind":"value"},
{"date":"2019-06-03T19:00Z","price":367.2,"label":"H:","kind":"bold"},
{"date":"2019-06-09T00:00Z","price":367.2,"label":"275.94","kind":"value"},
{"date":"2019-06-25T10:00Z","price":367.2,"label":"L:","kind":"bold"},
{"date":"2019-06-29T14:00Z","price":367.2,"label":"261.75","kind":"value"},
{"date":"2019-07-16T05:00Z","price":367.2,"label":"C:","kind":"bold"},
{"date":"2019-07-20T10:00Z","price":367.2,"label":"267.91","kind":"value"}
],
"tags":[
{"date":"2020-06-26T10:00Z","date2":"2020-07-15","price":314.9,"price2":306.8,"kind":"level"},
{"date":"2020-06-26T10:00Z","date2":"2020-07-15","price":228.7,"price2":220.6,"kind":"level"},
{"date":"2020-06-26T10:00Z","date2":"2020-07-15","price":153.1,"price2":144.8,"kind":"level"},
{"date":"2020-06-26T10:00Z","date2":"2020-07-15","price":275.9,"price2":267.8,"kind":"last"},
{"date":"2020-06-26T10:00Z","date2":"2020-07-17","price":267.2,"price2":259.1,"kind":"last"}
],
"tagLabels":[
{"date":"2020-07-05T19:00Z","price":310.97,"label":"310.97"},
{"date":"2020-07-05T19:00Z","price":224.6,"label":"224.60"},
{"date":"2020-07-05T19:00Z","price":149,"label":"149.00"},
{"date":"2020-07-05T19:00Z","price":271.85,"label":"271.85"},
{"date":"2020-07-06T12:00Z","price":263.1,"label":"05:17:19"}
],
"tagTicks":[
{"date":"2020-06-26T10:00Z","date2":"2020-06-28","price":310.97},
{"date":"2020-06-26T10:00Z","date2":"2020-06-28","price":224.6},
{"date":"2020-06-26T10:00Z","date2":"2020-06-28","price":149},
{"date":"2020-06-26T10:00Z","date2":"2020-06-28","price":271.85}
]
},
"data":{"name":"candles"},
"encoding":{
"x":{"field":"date","type":"temporal","title":null,
"scale":{"type":"utc","domain":[{"year":2019,"month":1,"date":28,"hours":7,"utc":true},{"year":2020,"month":6,"date":26,"hours":10,"utc":true}]},
"axis":{"orient":"bottom","title":null,"grid":true,"gridColor":"#e6eef4","gridWidth":1.2,
"values":[{"year":2019,"month":2,"date":1,"utc":true},{"year":2019,"month":3,"date":2,"utc":true},{"year":2019,"month":4,"date":1,"utc":true},{"year":2019,"month":5,"date":1,"utc":true},{"year":2019,"month":6,"date":1,"utc":true},{"year":2019,"month":7,"date":1,"utc":true},{"year":2019,"month":8,"date":1,"utc":true},{"year":2019,"month":9,"date":1,"utc":true},{"year":2019,"month":10,"date":1,"utc":true},{"year":2019,"month":11,"date":1,"utc":true},{"year":2019,"month":12,"date":1,"utc":true},{"year":2020,"month":1,"date":1,"utc":true},{"year":2020,"month":2,"date":1,"utc":true},{"year":2020,"month":3,"date":1,"utc":true},{"year":2020,"month":4,"date":1,"utc":true},{"year":2020,"month":5,"date":1,"utc":true},{"year":2020,"month":6,"date":1,"utc":true}],
"labelExpr":"utcdate(datum.value)==2?'2':utcmonth(datum.value)==0?'2020':utcFormat(datum.value,'%b')",
"labelFontWeight":{"condition":{"test":"utcmonth(datum.value)==0","value":"bold"},"value":"normal"},
"labelColor":{"condition":{"test":"utcmonth(datum.value)==0","value":"#131722"},"value":"#50535e"},
"labelFontSize":13.5,"labelPadding":8,"labelOverlap":false,"labelFlush":false,"labelBound":false,"tickSize":4,"tickColor":"#50535e","tickWidth":1,"domainColor":"#50535e","domainWidth":1.5}},
"y":{"field":"price","type":"quantitative","title":null,
"scale":{"domain":[67.2,360.6],"nice":false,"zero":false},
"axis":{"orient":"right","title":null,"grid":true,"gridColor":"#e6eef4","gridWidth":1.2,
"values":[80,100,120,140,160,180,200,220,240,260,280,300,320,340,360],"format":".2f",
"labelFontSize":13.5,"labelColor":"#50535e","labelPadding":6,"labelOverlap":false,"labelFlush":false,"labelBound":false,"tickSize":5,"tickColor":"#50535e","domainColor":"#808080","domainWidth":2}}
},
"layer":[
{"mark":{"type":"rule","strokeWidth":1.2,"opacity":0.8,"clip":true},
"encoding":{"y":{"field":"l","type":"quantitative","title":null,"scale":{"domain":[67.2,360.6],"nice":false,"zero":false},
"axis":{"orient":"right","title":null,"grid":true,"gridColor":"#e6eef4","gridWidth":1.2,"values":[80,100,120,140,160,180,200,220,240,260,280,300,320,340,360],"format":".2f","labelFontSize":13.5,"labelColor":"#50535e","labelPadding":6,"labelOverlap":false,"labelFlush":false,"labelBound":false,"tickSize":5,"tickColor":"#50535e","domainColor":"#808080","domainWidth":2}},"y2":{"field":"h"},
"color":{"condition":{"test":"datum.c>=datum.o","value":"#26a69a"},"value":"#ef5350"}}},
{"mark":{"type":"rule","strokeWidth":3.2,"opacity":0.92,"clip":true},
"encoding":{"y":{"field":"o","type":"quantitative","title":null,"scale":{"domain":[67.2,360.6],"nice":false,"zero":false},
"axis":{"orient":"right","title":null,"grid":true,"gridColor":"#e6eef4","gridWidth":1.2,"values":[80,100,120,140,160,180,200,220,240,260,280,300,320,340,360],"format":".2f","labelFontSize":13.5,"labelColor":"#50535e","labelPadding":6,"labelOverlap":false,"labelFlush":false,"labelBound":false,"tickSize":5,"tickColor":"#50535e","domainColor":"#808080","domainWidth":2}},"y2":{"field":"c"},
"color":{"condition":{"test":"datum.c>=datum.o","value":"#26a69a"},"value":"#ef5350"}}},
{"data":{"values":[{"date":"2019-01-28T07:00Z","date2":"2020-06-26T10:00Z","price":267.91}]},
"mark":{"type":"rule","color":"#26a69a","strokeWidth":1,"strokeDash":[1.5,1.5]},
"encoding":{"x2":{"field":"date2"}}},
{"data":{"name":"levels"},
"mark":{"type":"rule","color":"#000000","strokeWidth":3,"strokeDash":[18,15]},
"encoding":{"x2":{"field":"date2"}}},
{"data":{"name":"arrows"},
"mark":{"type":"line","color":"#000000","strokeWidth":3,"strokeDash":[15,18]},
"encoding":{"detail":{"field":"g"},"order":{"field":"i"}}},
{"data":{"name":"greenArrows"},
"mark":{"type":"line","color":"#38761d","strokeWidth":2.6,"strokeDash":[15,18]},
"encoding":{"detail":{"field":"g"},"order":{"field":"i"}}},
{"data":{"values":[
{"date":"2019-04-26","price":151.1,"shape":"M-38.5,-31.2A49.5,32.9,39,1,1,38.5,31.2A49.5,32.9,39,1,1,-38.5,-31.2Z"},
{"date":"2019-06-06T05:00Z","price":230.6,"shape":"M-19.1,-33.5A38.6,27.3,60.3,1,1,19.1,33.5A38.6,27.3,60.3,1,1,-19.1,-33.5Z"}]},
"mark":{"type":"point","filled":true,"fill":"#ffffff","fillOpacity":0.42,"stroke":"#333333","strokeWidth":1,"strokeOpacity":1,"size":4},
"encoding":{"shape":{"field":"shape","type":"nominal","scale":null,"legend":null}}},
{"data":{"name":"notes"},
"mark":{"type":"text","align":"left","baseline":"middle","font":"DejaVu Sans","fontWeight":"bold","fontSize":14.8,"color":"#131722"},
"encoding":{"text":{"field":"label"}}},
{"data":{"values":[{"date":"2019-01-31T12:00Z","price":352.5,"label":"Ethereum / U.S. Dollar, 1D, KRAKEN, Heikin Ashi"}]},
"mark":{"type":"text","align":"left","baseline":"middle","fontWeight":"bold","fontSize":15.6,"color":"#5d606b"},
"encoding":{"text":{"field":"label"}}},
{"data":{"values":[{"date":"2020-06-26T10:00Z","date2":"2020-07-18T22:00Z","price":361,"price2":369}]},
"mark":{"type":"rect","fill":"#ffffff"},
"encoding":{"x2":{"field":"date2"},"y2":{"field":"price2"}}},
{"data":{"name":"tags"},
"mark":{"type":"rect"},
"encoding":{"x2":{"field":"date2"},"y2":{"field":"price2"},
"color":{"condition":{"test":"datum.kind=='level'","value":"#000000"},"value":"#26a69a"}}},
{"data":{"name":"tagTicks"},
"mark":{"type":"rule","color":"#ffffff","strokeWidth":1},
"encoding":{"x2":{"field":"date2"}}},
{"data":{"name":"tagLabels"},
"mark":{"type":"text","align":"center","baseline":"middle","fontSize":14.5,"fontWeight":"bold","color":"#ffffff"},
"encoding":{"text":{"field":"label"}}},
{"data":{"values":[{"date":"2019-01-28T07:00Z","date2":"2020-07-18T22:00Z","price":360.6,"price2":54.6}]},
"mark":{"type":"rect","fill":null,"fillOpacity":0,"stroke":"#50535e","strokeWidth":1.5},
"encoding":{"x2":{"field":"date2"},"y2":{"field":"price2"}}},
{"data":{"values":[{"date":"2020-06-26T10:00Z","date2":"2020-06-26T10:00Z","price":360.6,"price2":54.6},{"date":"2020-06-26T10:00Z","date2":"2020-07-18T22:00Z","price":67.2,"price2":67.2}]},
"mark":{"type":"rule","color":"#6b6e78","strokeWidth":1.5},
"encoding":{"x2":{"field":"date2"},"y2":{"field":"price2"}}},
{"data":{"name":"header"},"transform":[{"filter":"datum.kind=='user'"}],
"mark":{"type":"text","align":"left","baseline":"middle","fontSize":16,"fontWeight":"bold","color":"#131722"},
"encoding":{"text":{"field":"label"}}},
{"data":{"name":"header"},"transform":[{"filter":"datum.kind=='bold'"}],
"mark":{"type":"text","align":"left","baseline":"middle","fontSize":14.8,"fontWeight":"bold","color":"#131722"},
"encoding":{"text":{"field":"label"}}},
{"data":{"name":"header"},"transform":[{"filter":"datum.kind=='plain'||datum.kind=='value'"}],
"mark":{"type":"text","align":"left","baseline":"middle","fontSize":16},
"encoding":{"text":{"field":"label"},
"color":{"condition":{"test":"datum.kind=='value'","value":"#26a69a"},"value":"#131722"}}},
{"data":{"values":[{"date":"2019-02-02","price":45.5,"shape":"M-16,9L-16,5C-16,1,-12,-1,-9,0C-7,-5,-3,-9,2,-9C7,-9,10,-6,11,-2C14,-2,16,1,16,5L16,9Z"}]},
"mark":{"type":"point","filled":true,"fill":"#2196f3","size":4,"opacity":1},
"encoding":{"shape":{"field":"shape","type":"nominal","scale":null,"legend":null}}},
{"data":{"values":[{"date":"2019-02-02","price":45.5,"shape":"M-12,4L-5,-1L1,4L9,-3"}]},
"mark":{"type":"point","filled":false,"stroke":"#ffffff","strokeWidth":2,"size":4,"opacity":1},
"encoding":{"shape":{"field":"shape","type":"nominal","scale":null,"legend":null}}},
{"data":{"values":[{"date":"2019-02-07T10:00Z","price":45.6,"label":"TradingView"}]},
"mark":{"type":"text","align":"left","baseline":"middle","fontSize":17,"color":"#50535e"},
"encoding":{"text":{"field":"label"}}}
]
}
